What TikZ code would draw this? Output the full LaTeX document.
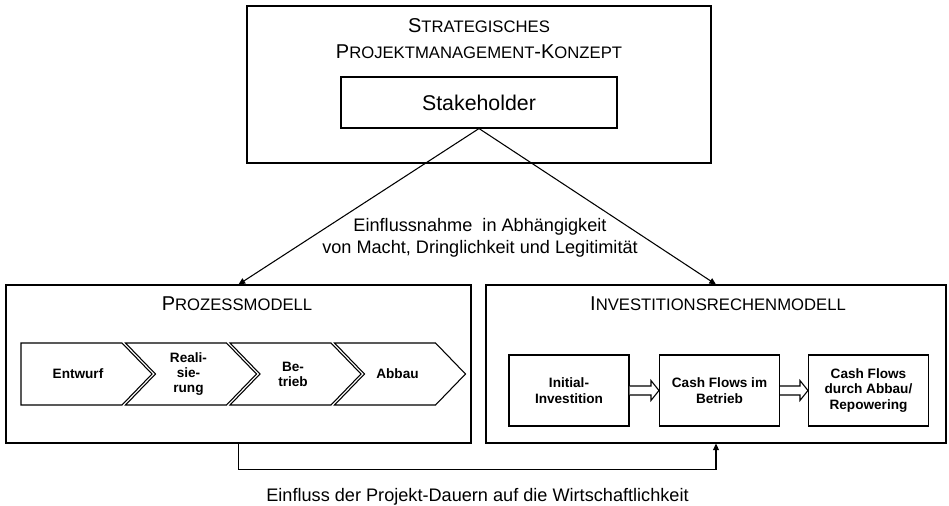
\documentclass[tikz,border=0pt]{standalone}
\usepackage{fontspec}
\setmainfont{Liberation Sans}
\usetikzlibrary{positioning,calc,arrows.meta}
\newcommand{\kapit}[1]{{\fontsize{12.5}{15}\selectfont #1}}

\begin{document}
\begin{tikzpicture}[x=0.75pt, y=-0.75pt, rahmen/.style={draw=black, line width=0.8pt, fill=white}, kapitel/.style={font=\fontsize{15}{19.5}\selectfont, align=center, inner sep=0pt}, phasetext/.style={font=\fontsize{10.2}{11.25}\selectfont\bfseries, align=center, inner sep=0pt}, rechenbox/.style={rahmen, minimum width=90pt, minimum height=53.25pt, align=center, inner sep=2pt, font=\fontsize{10.2}{11.7}\selectfont\bfseries}, pfeil/.style={-{Triangle[length=5pt,width=4.5pt]}, draw=black, line width=0.8pt}, hohlpfeil/.style={draw=black, line width=0.8pt, fill=white}]
\useasboundingbox (0,0) rectangle (949,506);
\node[rahmen, minimum width=348pt, minimum height=117.75pt] (strat) at (479,84.5) {};
\node[kapitel] (strattitel) at (479,39) {S\kapit{TRATEGISCHES}\\P\kapit{ROJEKTMANAGEMENT}-K\kapit{ONZEPT}};
\node[rahmen, minimum width=207pt, minimum height=38.25pt, font=\fontsize{16}{19}\selectfont] (stake) at (479,102.5) {Stakeholder};
\node[rahmen, minimum width=348.75pt, minimum height=118.5pt] (proz) at (238.5,364) {};
\node[kapitel] (proztitel) at (237,304) {P\kapit{ROZESSMODELL}};
\node[rahmen, minimum width=345pt, minimum height=118.5pt] (inv) at (716,364) {};
\node[kapitel] (invtitel) at (718,304) {I\kapit{NVESTITIONSRECHENMODELL}};
% Phasen als Pfeilkette
\foreach \l/\k in {21/0, 125.5/30, 230/30, 334.5/30}
  \draw[rahmen] (\l,343) -- ++(101,0) -- ++(30,31) -- ++(-30,31) -- ++(-101,0) -- ++(\k,-31) -- cycle;
\node[phasetext] (ph1) at (78,374) {Entwurf};
\node[phasetext] (ph2) at (188.5,374) {Reali-\\sie-\\rung};
\node[phasetext] (ph3) at (293,374) {Be-\\trieb};
\node[phasetext] (ph4) at (397.5,374) {Abbau};
\node[rechenbox] (inv1) at (569,390.5) {Initial-\\Investition};
\node[rechenbox] (inv2) at (719.5,390.5) {Cash Flows im\\Betrieb};
\node[rechenbox] (inv3) at (868.5,390.5) {Cash Flows\\durch Abbau/\\Repowering};
\foreach \a/\b in {inv1/inv2, inv2/inv3}
  \draw[hohlpfeil] ($(\a.east)+(0,-4.5)$) -- ($(\b.west)+(-8,-4.5)$) -- ($(\b.west)+(-8,-10)$) -- (\b.west) -- ($(\b.west)+(-8,10)$) -- ($(\b.west)+(-8,4.5)$) -- ($(\a.east)+(0,4.5)$);
\draw[pfeil] (stake.south) -- (proz.north);
\draw[pfeil] (stake.south) -- (inv.north);
\node[font=\fontsize{13.6}{16.5}\selectfont, align=center] (einfluss) at (480,238) {Einflussnahme\ \ in Abhängigkeit\\von Macht, Dringlichkeit und Legitimität};
\draw[pfeil] (proz.south) -- ++(0,26) -| (inv.south);
\node[font=\fontsize{13.6}{16.5}\selectfont, inner sep=0pt] (dauer) at (477.5,497) {Einfluss der Projekt-Dauern auf die Wirtschaftlichkeit};
\end{tikzpicture}
\end{document}
